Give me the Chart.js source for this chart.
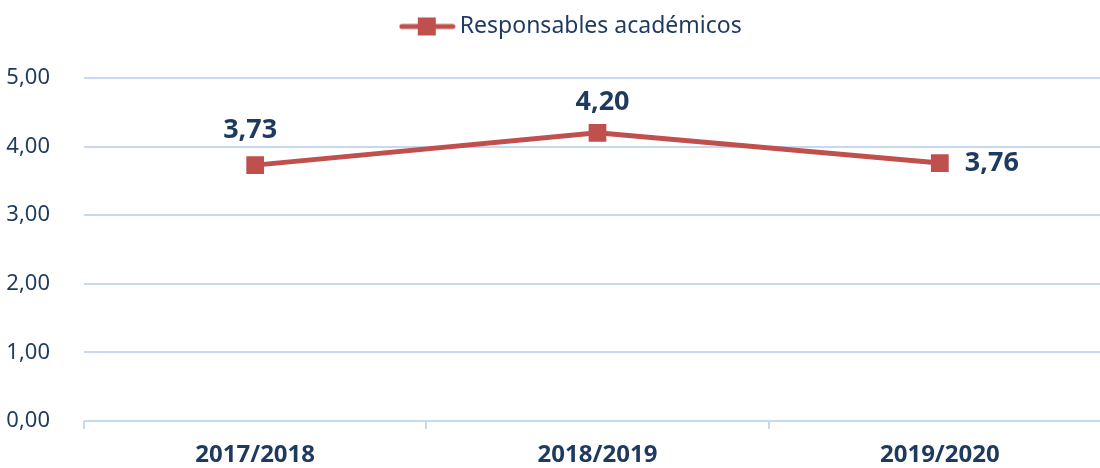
<!DOCTYPE html>
<html>
<head>
<meta charset="utf-8">
<script src="https://cdn.jsdelivr.net/npm/chart.js@4.4.1/dist/chart.umd.min.js"></script>
<style>
html,body{margin:0;padding:0;background:#fff;overflow:hidden;width:1100px;height:468px;}
canvas{display:block;}
</style>
</head>
<body>
<canvas id="c" width="1100" height="468" style="width:1100px;height:468px"></canvas>
<script>
const categories = ['2017/2018', '2018/2019', '2019/2020'];
const seriesName = 'Responsables académicos';
const values = [3.73, 4.20, 3.76];
const yTicks = [0, 1, 2, 3, 4, 5];

const lineColor = '#C0504D';
const textColor = '#1F3A5F';
const gridColor = '#C6D9F1';
const fmt = v => v.toFixed(2).replace('.', ',');

// legend marker image: line with square
const mk = document.createElement('canvas');
mk.width = 57; mk.height = 20;
(function(){
  const g = mk.getContext('2d');
  g.strokeStyle = lineColor; g.lineWidth = 5; g.lineCap = 'round';
  g.beginPath(); g.moveTo(3,10); g.lineTo(54,10); g.stroke();
  g.fillStyle = lineColor; g.fillRect(19,1,18,18);
})();

const labelOffsets = [
  {dx:-5, dy:-35, align:'center'},
  {dx:5, dy:-31, align:'center'},
  {dx:25, dy:0, align:'left'}
];

const dataLabels = {
  id:'dataLabels',
  afterDatasetsDraw(chart){
    const ctx = chart.ctx;
    const meta = chart.getDatasetMeta(0);
    ctx.save();
    ctx.font = 'bold 27px "Noto Sans"';
    ctx.fillStyle = textColor;
    ctx.textBaseline = 'middle';
    meta.data.forEach((pt,i)=>{
      const o = labelOffsets[i];
      ctx.textAlign = o.align;
      ctx.fillText(fmt(values[i]), pt.x + o.dx, pt.y + o.dy);
    });
    ctx.restore();
  }
};

const legendMargin = {
  id:'legendMargin',
  beforeInit(chart){
    const lg = chart.legend;
    const fit = lg.fit;
    lg.fit = function(){
      fit.call(lg);
      this.height += 30;
    };
    const draw = lg.draw;
    lg.draw = function(){
      const c = chart.ctx;
      c.save();
      c.translate(24, 0);
      draw.call(lg);
      c.restore();
    };
  }
};

// plot area in the original runs past the right edge of the picture
const PLOT_RIGHT = 1111;
const extendRight = {
  id:'extendRight',
  afterLayout(chart){
    const x = chart.scales.x;
    x.right = PLOT_RIGHT;
    x.width = x.right - x.left;
    x.configure();
    chart.chartArea.right = PLOT_RIGHT;
    chart.chartArea.width = PLOT_RIGHT - chart.chartArea.left;
  },
  // horizontal value gridlines across the whole width of the picture
  beforeDatasetsDraw(chart){
    const y = chart.scales.y;
    const ctx = chart.ctx;
    ctx.save();
    ctx.strokeStyle = gridColor;
    ctx.lineWidth = 2;
    y.ticks.forEach(t=>{
      const py = Math.round(y.getPixelForValue(t.value));
      ctx.beginPath();
      ctx.moveTo(chart.chartArea.left, py);
      ctx.lineTo(chart.width + 20, py);
      ctx.stroke();
    });
    ctx.restore();
  }
};

new Chart(document.getElementById('c'), {
  type:'line',
  data:{
    labels: categories,
    datasets:[{
      label: seriesName,
      data: values,
      borderColor: lineColor,
      backgroundColor: lineColor,
      borderWidth: 5,
      pointStyle: 'rect',
      pointRadius: 9,
      pointHoverRadius: 9,
      tension: 0
    }]
  },
  options:{
    responsive:false,
    animation:false,
    layout:{padding:0},
    plugins:{
      tooltip:{enabled:false},
      legend:{
        display:true,
        position:'top',
        labels:{
          usePointStyle:true,
          pointStyleWidth:42,
          padding:15,
          color:textColor,
          font:{family:'"Noto Sans"', size:23},
          generateLabels(chart){
            return [{text: seriesName, pointStyle: mk, fontColor: textColor, datasetIndex:0, lineWidth:0, strokeStyle:'transparent', fillStyle:'transparent'}];
          }
        }
      }
    },
    scales:{
      x:{
        offset:true,
        afterFit(axis){ axis.height = 47; },
        grid:{offset:true, drawOnChartArea:false, drawTicks:true, tickLength:8, color:gridColor, lineWidth:2},
        border:{display:false},
        ticks:{color:textColor, font:{family:'"Noto Sans"', size:24, weight:'bold'}, padding:12}
      },
      y:{
        min:0, max:5,
        afterBuildTicks(axis){ axis.ticks = yTicks.map(v=>({value:v})); },
        afterFit(axis){ axis.width = 84; },
        grid:{display:false},
        border:{display:false},
        ticks:{color:textColor, font:{family:'"Noto Sans"', size:22}, padding:26, callback:v=>fmt(v)}
      }
    }
  },
  plugins:[dataLabels, legendMargin, extendRight]
});
</script>
</body>
</html>
